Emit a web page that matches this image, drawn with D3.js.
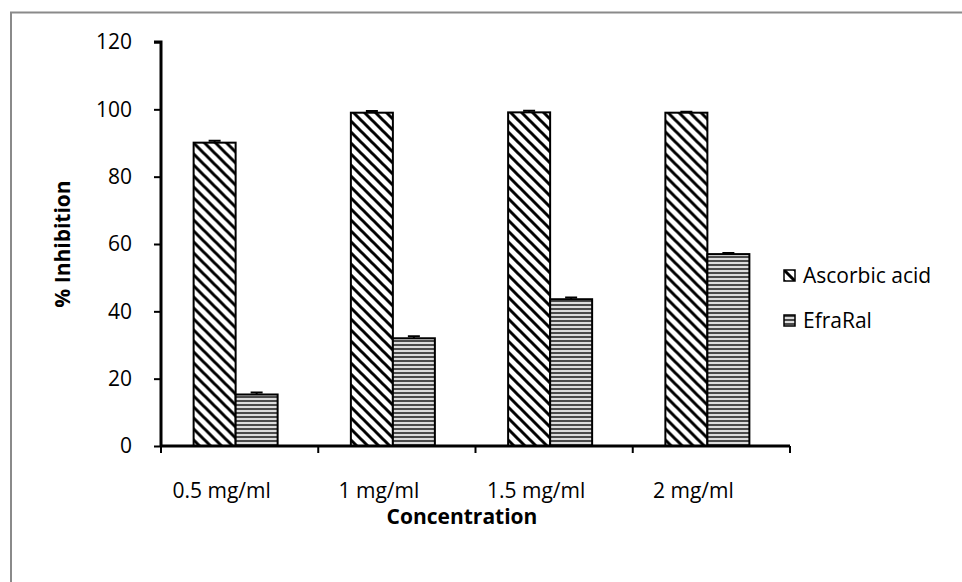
<!DOCTYPE html>
<html>
<head>
<meta charset="utf-8">
<script src="https://cdn.jsdelivr.net/npm/d3@7/dist/d3.min.js"></script>
<style>
  html, body { margin: 0; padding: 0; background: #fff; }
  svg { display: block; font-family: "Open Sans", Lato, sans-serif; }
</style>
</head>
<body>
<svg id="chart" width="962" height="582"></svg>
<script>
  // chart data
  const categories = ['0.5 mg/ml', '1 mg/ml', '1.5 mg/ml', '2 mg/ml'];
  const seriesNames = ['Ascorbic acid', 'EfraRal'];
  const ascorbic = [90.1, 99.0, 99.1, 99.0];
  const ascorbicErr = [0.6, 0.5, 0.5, 0.3];
  const efraral = [15.3, 32.0, 43.6, 57.0];
  const efraralErr = [0.6, 0.6, 0.5, 0.3];
  const yTicks = [0, 20, 40, 60, 80, 100, 120];

  const svg = d3.select('#chart');
  const fontSize = 21;
  const fontFamily = '"Open Sans", Lato, sans-serif';

  // outer frame (gray, open at right and bottom)
  svg.append('path')
    .attr('d', 'M11,585 L11,12.5 L965,12.5')
    .attr('fill', 'none')
    .attr('stroke', '#8a8a8a')
    .attr('stroke-width', 2);

  // patterns
  const defs = svg.append('defs');
  const diag = defs.append('pattern')
    .attr('id', 'diag')
    .attr('patternUnits', 'userSpaceOnUse')
    .attr('width', 11).attr('height', 11);
  diag.append('rect').attr('width', 11).attr('height', 11).attr('fill', '#fff');
  diag.append('path')
    .attr('d', 'M-3,-3 L14,14 M-14,-3 L3,14 M8,-3 L25,14')
    .attr('stroke', '#000').attr('stroke-width', 3);

  const horiz = defs.append('pattern')
    .attr('id', 'horiz')
    .attr('patternUnits', 'userSpaceOnUse')
    .attr('width', 8).attr('height', 4);
  horiz.append('rect').attr('width', 8).attr('height', 4).attr('fill', '#dcdcdc');
  horiz.append('rect').attr('y', 0).attr('width', 8).attr('height', 2).attr('fill', '#4a4a4a');

  const fills = ['url(#diag)', 'url(#horiz)'];

  const plot = { left: 161, right: 790, top: 42, bottom: 446 };

  const x = d3.scaleBand()
    .domain(categories)
    .range([plot.left, plot.right]);

  const y = d3.scaleLinear()
    .domain([0, 120])
    .range([plot.bottom, plot.top]);

  const barW = 42;
  const barShift = -4;

  const rows = categories.map((c, i) => ({
    cat: c,
    vals: [
      { s: 0, v: ascorbic[i], e: ascorbicErr[i] },
      { s: 1, v: efraral[i], e: efraralErr[i] }
    ]
  }));

  const groups = svg.append('g')
    .selectAll('g')
    .data(rows)
    .enter()
    .append('g')
    .attr('transform', d => `translate(${x(d.cat) + x.bandwidth() / 2 - barW + barShift},0)`);

  // error bars (drawn before bars so bar outline sits on top)
  groups.selectAll('.err')
    .data(d => d.vals)
    .enter()
    .append('path')
    .attr('class', 'err')
    .attr('d', d => {
      const cx = d.s * barW + barW / 2;
      const y1 = y(d.v + d.e);
      return `M${cx},${y(d.v)} L${cx},${y1} M${cx - 6},${y1} L${cx + 6},${y1}`;
    })
    .attr('stroke', '#000')
    .attr('stroke-width', 2)
    .attr('fill', 'none');

  groups.selectAll('rect')
    .data(d => d.vals)
    .enter()
    .append('rect')
    .attr('x', d => d.s * barW)
    .attr('y', d => y(d.v))
    .attr('width', barW)
    .attr('height', d => y(0) - y(d.v))
    .attr('fill', d => fills[d.s])
    .attr('stroke', '#000')
    .attr('stroke-width', 2);

  // y axis
  const yAxis = svg.append('g')
    .attr('transform', `translate(${plot.left},0)`)
    .call(d3.axisLeft(y).tickValues(yTicks).tickSize(7).tickPadding(22));
  yAxis.select('.domain').attr('stroke', '#000').attr('stroke-width', 3)
    .attr('d', `M-7,${plot.top}H0V${plot.bottom}`);
  yAxis.selectAll('.tick line').attr('stroke', '#000').attr('stroke-width', 2);
  yAxis.selectAll('.tick text')
    .attr('font-size', fontSize).attr('fill', '#000')
    .attr('font-family', fontFamily);

  // x axis
  const xAxis = svg.append('g')
    .attr('transform', `translate(0,${plot.bottom})`)
    .call(d3.axisBottom(x).tickSize(0).tickPadding(52));
  xAxis.select('.domain').attr('stroke', '#000').attr('stroke-width', 3)
    .attr('d', `M${plot.left},0H${plot.right}`);
  xAxis.selectAll('.tick text')
    .attr('font-size', fontSize).attr('fill', '#000')
    .attr('dy', '0')
    .attr('x', -18)
    .attr('font-family', fontFamily);

  // category boundary ticks
  const bounds = d3.range(categories.length + 1).map(i => plot.left + i * x.step());
  svg.append('g')
    .selectAll('line')
    .data(bounds)
    .enter()
    .append('line')
    .attr('x1', d => d).attr('x2', d => d)
    .attr('y1', plot.bottom).attr('y2', plot.bottom + 7)
    .attr('stroke', '#000').attr('stroke-width', 2);

  // axis titles
  svg.append('text')
    .attr('transform', `translate(70,${(plot.top + plot.bottom) / 2}) rotate(-90)`)
    .attr('text-anchor', 'middle')
    .attr('font-size', fontSize)
    .attr('font-weight', 'bold')
    .text('% Inhibition');

  svg.append('text')
    .attr('x', 462)
    .attr('y', 524)
    .attr('text-anchor', 'middle')
    .attr('font-size', fontSize)
    .attr('font-weight', 'bold')
    .text('Concentration');

  // legend
  const legend = svg.append('g')
    .selectAll('g')
    .data(seriesNames)
    .enter()
    .append('g')
    .attr('transform', (d, i) => `translate(784,${270 + i * 45})`);
  legend.append('rect')
    .attr('width', 11).attr('height', 11)
    .attr('fill', (d, i) => fills[i])
    .attr('stroke', '#000').attr('stroke-width', 1.5);
  legend.append('text')
    .attr('x', 19).attr('y', 13)
    .attr('font-size', fontSize)
    .text(d => d);
</script>
</body>
</html>
